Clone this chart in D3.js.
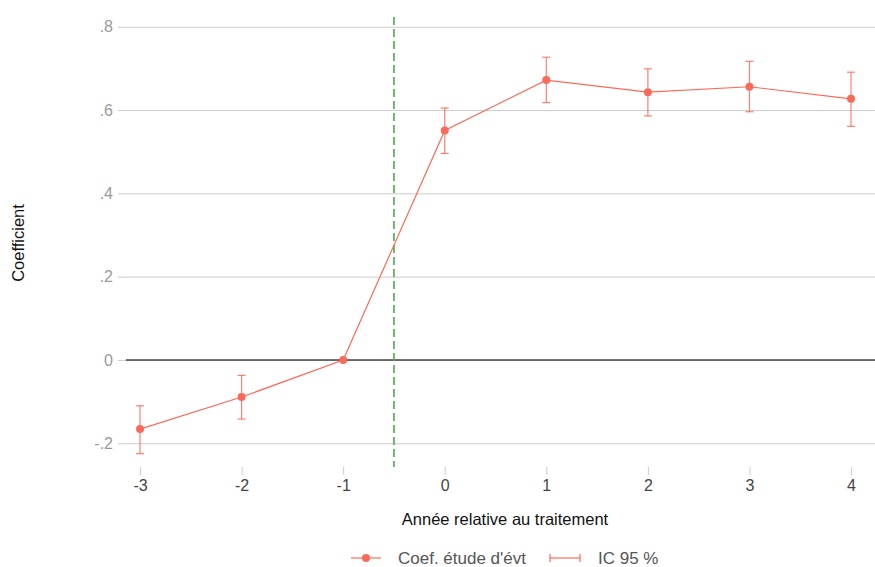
<!DOCTYPE html>
<html><head><meta charset="utf-8">
<script src="https://cdn.jsdelivr.net/npm/d3@7"></script>
<style>body{margin:0;background:#fff;}svg{display:block;font-family:"Liberation Sans",Arial,sans-serif;}</style>
</head><body><svg id="c" width="875" height="567"></svg>
<script>
const years = [-3, -2, -1, 0, 1, 2, 3, 4];
const coef  = [-0.166, -0.089, 0, 0.551, 0.672, 0.643, 0.656, 0.627];
const ciLow = [-0.225, -0.142, 0, 0.496, 0.618, 0.586, 0.596, 0.561];
const ciHigh= [-0.110, -0.037, 0, 0.605, 0.727, 0.699, 0.717, 0.691];
const yTicks = [-0.2, 0, 0.2, 0.4, 0.6, 0.8];
const yTickLabels = ["-.2", "0", ".2", ".4", ".6", ".8"];
const xTicks = [-3, -2, -1, 0, 1, 2, 3, 4];
const xTickLabels = ["-3", "-2", "-1", "0", "1", "2", "3", "4"];
const treatLine = -0.5;

const svg = d3.select("#c");
const L = 126, R = 875, T = 17, B = 467;
const x = d3.scaleLinear().domain([-3.138, 4.236]).range([L, R]);
const y = d3.scaleLinear().domain([-0.257, 0.8235]).range([B, T]);
const col = "#fb6a58";

// grid
const yAxis = d3.axisLeft(y).tickValues(yTicks).tickSize(-(R - L)).tickPadding(6)
  .tickFormat((d, i) => yTickLabels[i]);
const gy = svg.append("g").attr("transform", `translate(${L},0)`).call(yAxis);
gy.select(".domain").remove();
gy.selectAll(".tick line").attr("stroke", "#cccccc").attr("stroke-width", 1).attr("x1", -8);
gy.selectAll(".tick text").attr("fill", "#9a9a9a").style("font-size", "16px").attr("x", -13);

const xAxis = d3.axisBottom(x).tickValues(xTicks).tickSize(8).tickPadding(5)
  .tickFormat((d, i) => xTickLabels[i]);
const gx = svg.append("g").attr("transform", `translate(0,${B})`).call(xAxis);
gx.select(".domain").remove();
gx.selectAll(".tick line").attr("stroke", "#cccccc");
gx.selectAll(".tick text").attr("fill", "#444").style("font-size", "16px");

// zero line
svg.append("line").attr("x1", L).attr("x2", R).attr("y1", y(0)).attr("y2", y(0))
  .attr("stroke", "#444").attr("stroke-width", 1.5);

// treatment line
svg.append("line").attr("x1", x(treatLine)).attr("x2", x(treatLine)).attr("y1", T).attr("y2", B)
  .attr("stroke", "#4fa84f").attr("stroke-width", 1.6).attr("stroke-dasharray", "8,4");

const data = years.map((d, i) => ({x: d, c: coef[i], lo: ciLow[i], hi: ciHigh[i]}));

// error bars
const eb = svg.append("g").attr("stroke", col).attr("stroke-opacity", 0.85).attr("stroke-width", 1.2);
data.filter(d => d.hi !== d.lo).forEach(d => {
  eb.append("line").attr("x1", x(d.x)).attr("x2", x(d.x)).attr("y1", y(d.lo)).attr("y2", y(d.hi));
  eb.append("line").attr("x1", x(d.x) - 4).attr("x2", x(d.x) + 4).attr("y1", y(d.lo)).attr("y2", y(d.lo));
  eb.append("line").attr("x1", x(d.x) - 4).attr("x2", x(d.x) + 4).attr("y1", y(d.hi)).attr("y2", y(d.hi));
});

// line
svg.append("path").datum(data)
  .attr("d", d3.line().x(d => x(d.x)).y(d => y(d.c)))
  .attr("fill", "none").attr("stroke", col).attr("stroke-width", 1.2);
svg.append("g").selectAll("circle").data(data).join("circle")
  .attr("cx", d => x(d.x)).attr("cy", d => y(d.c)).attr("r", 4).attr("fill", col);

// axis titles
svg.append("text").attr("transform", `translate(24,${(T + B) / 2 + 1}) rotate(-90)`)
  .attr("text-anchor", "middle").style("font-size", "16.5px").attr("fill", "#111").text("Coefficient");
svg.append("text").attr("x", 505).attr("y", 525).attr("text-anchor", "middle")
  .style("font-size", "16.5px").attr("fill", "#111").text("Année relative au traitement");

// legend
const ly = 558;
const lg = svg.append("g");
lg.append("line").attr("x1", 351).attr("x2", 381).attr("y1", ly).attr("y2", ly).attr("stroke", col).attr("stroke-width", 1.2);
lg.append("circle").attr("cx", 366).attr("cy", ly).attr("r", 4).attr("fill", col);
lg.append("text").attr("x", 398).attr("y", ly + 6).style("font-size", "17px").attr("fill", "#555").text("Coef. étude d'évt");
lg.append("line").attr("x1", 550).attr("x2", 580).attr("y1", ly).attr("y2", ly).attr("stroke", col).attr("stroke-width", 1.2);
lg.append("line").attr("x1", 550).attr("x2", 550).attr("y1", ly - 4).attr("y2", ly + 4).attr("stroke", col).attr("stroke-width", 1.2);
lg.append("line").attr("x1", 580).attr("x2", 580).attr("y1", ly - 4).attr("y2", ly + 4).attr("stroke", col).attr("stroke-width", 1.2);
lg.append("text").attr("x", 598).attr("y", ly + 6).style("font-size", "17px").attr("fill", "#555").text("IC 95 %");
</script></body></html>
